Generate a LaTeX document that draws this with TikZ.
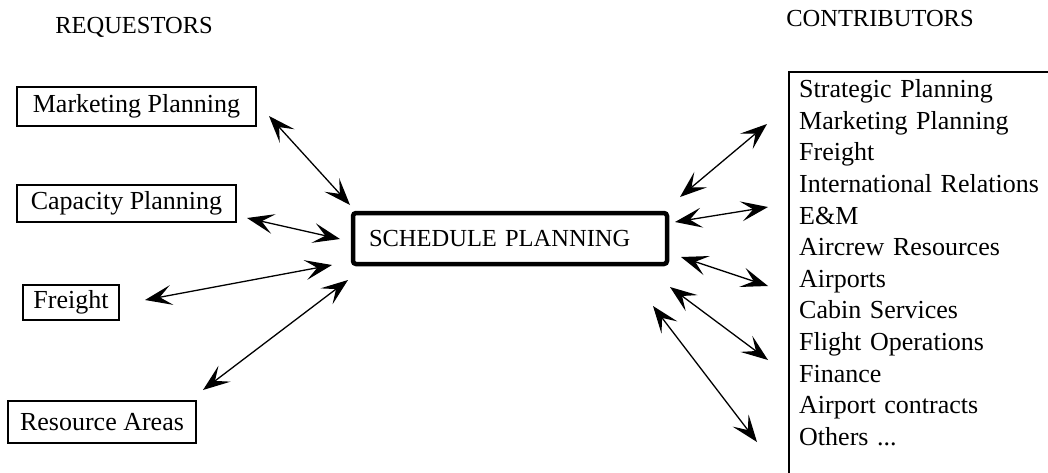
\documentclass[tikz,border=0pt]{standalone}
\usepackage{fontspec}
\setmainfont{Liberation Serif}
\usetikzlibrary{arrows.meta}

\begin{document}
\begin{tikzpicture}[
			x=1pt, y=-1pt,
			every node/.style={font=\fontsize{26}{31.6}\selectfont},
			unit/.style={rectangle, draw, line width=1.2pt, inner sep=0pt},
			caption/.style={font=\fontsize{24.5}{29}\selectfont},
			plan/.style={rectangle, draw, line width=4.5pt, rounded corners=3pt, minimum height=51pt, text width=282pt, inner xsep=16pt, align=left, font=\fontsize{24.5}{29}\selectfont},
			list/.style={rectangle, text width=270pt, inner xsep=10pt, inner ysep=7.5pt, align=left},
			link/.style={{Stealth[length=27pt, width=20pt, inset=12pt]}-{Stealth[length=27pt, width=20pt, inset=12pt]}, line width=1.3pt}
			]
			\useasboundingbox (0,0) rectangle (1048,472);
			
			\node[caption] (req) at (134,27) {REQUESTORS};
			\node[caption] (con) at (880,19) {CONTRIBUTORS};
			
			\node[unit, minimum width=239pt, minimum height=39pt] (mkt) at (136.5,106.5) {Marketing Planning};
			\node[unit, minimum width=219pt, minimum height=37pt] (cap) at (126.5,203.5) {Capacity Planning};
			\node[unit, minimum width=96pt, minimum height=35pt] (frt) at (71,302.5) {Freight};
			\node[unit, minimum width=188pt, minimum height=42pt] (res) at (102,422) {Resource Areas};
			
			\node[plan] (sched) at (510,238.5) {SCHEDULE PLANNING};
			
			\node[list, anchor=north west] (contrib) at (789,72) {Strategic Planning\\Marketing Planning\\Freight\\International Relations\\E\&M\\Aircrew Resources\\Airports\\Cabin Services\\Flight Operations\\Finance\\Airport contracts\\Others ...};
			\draw[line width=1.2pt] ([yshift=-60pt]contrib.south west) -- (contrib.north west) -- ([xshift=40pt]contrib.north east);
			
			\coordinate (mkt-a) at (269,116);   \coordinate (mkt-b) at (350,205);
			\coordinate (cap-a) at (247,218);   \coordinate (cap-b) at (340,239);
			\coordinate (frt-a) at (145,300);   \coordinate (frt-b) at (332,265);
			\coordinate (res-a) at (203,390);   \coordinate (res-b) at (348,280);
			\coordinate (c1-a) at (680,197);    \coordinate (c1-b) at (767,124);
			\coordinate (c2-a) at (675,222);    \coordinate (c2-b) at (768,207);
			\coordinate (c3-a) at (681,257);    \coordinate (c3-b) at (768,286);
			\coordinate (c4-a) at (670,287);    \coordinate (c4-b) at (768,360);
			\coordinate (c5-a) at (653,306);    \coordinate (c5-b) at (757,442);
			
			\draw[link] (mkt-a) -- (mkt-b);
			\draw[link] (cap-a) -- (cap-b);
			\draw[link] (frt-a) -- (frt-b);
			\draw[link] (res-a) -- (res-b);
			\draw[link] (c1-a) -- (c1-b);
			\draw[link] (c2-a) -- (c2-b);
			\draw[link] (c3-a) -- (c3-b);
			\draw[link] (c4-a) -- (c4-b);
			\draw[link] (c5-a) -- (c5-b);
		\end{tikzpicture}
\end{document}
